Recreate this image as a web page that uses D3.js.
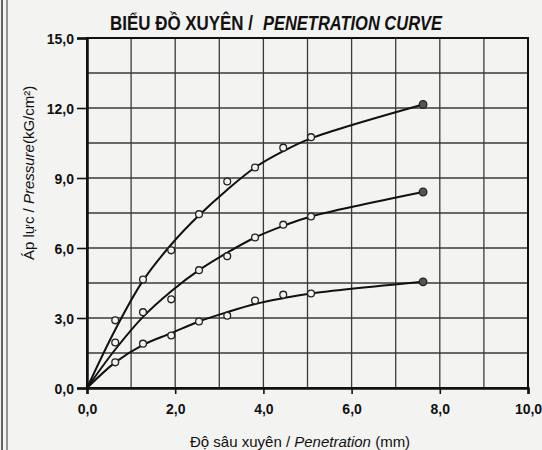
<!DOCTYPE html>
<html>
<head>
<meta charset="utf-8">
<script src="https://cdn.jsdelivr.net/npm/d3@7"></script>
<style>
  body { margin: 0; background: #f3f3f1; }
  svg { display: block; }
  text { font-family: "Liberation Sans Narrow", "Arial Narrow", "Liberation Sans", sans-serif; fill: #111; }
</style>
</head>
<body>
<div id="chart"></div>
<script>
// penetration depths (mm) where readings were taken
var depth = [0.64, 1.27, 1.91, 2.54, 3.18, 3.81, 4.45, 5.08, 7.62];

// measured pressures, three samples
var upper = [2.9, 4.65, 5.9, 7.45, 8.85, 9.45, 10.3, 10.75, 12.15];
var middle = [1.95, 3.25, 3.8, 5.05, 5.65, 6.45, 7.0, 7.35, 8.4];
var lower = [1.1, 1.9, 2.25, 2.85, 3.1, 3.75, 4.0, 4.05, 4.55];

// hand-drawn fitted curves, read at the same depths (start at origin)
var curveX = [0, 0.64, 1.27, 1.91, 2.54, 3.18, 3.81, 4.45, 5.08, 7.62];
var upperFit = [0, 2.5, 4.6, 6.15, 7.4, 8.5, 9.45, 10.15, 10.7, 12.15];
var middleFit = [0, 1.65, 3.05, 4.15, 5.05, 5.8, 6.45, 6.95, 7.35, 8.4];
var lowerFit = [0, 1.1, 1.85, 2.35, 2.85, 3.25, 3.6, 3.85, 4.05, 4.55];

var xTicks = [0, 2, 4, 6, 8, 10];
var yTicks = [0, 3, 6, 9, 12, 15];
var xGrid = d3.range(0, 11, 1);
var yGrid = d3.range(0, 16.5, 1.5);

var w = 542, h = 450;
var svg = d3.select('#chart').append('svg')
    .attr('width', w)
    .attr('height', h);

// paper edge on the left of the scan
svg.append('line').attr('x1', 2).attr('x2', 2).attr('y1', 0).attr('y2', h)
    .attr('stroke', '#333').attr('stroke-width', 1.5);
svg.append('line').attr('x1', 7).attr('x2', 7).attr('y1', 0).attr('y2', h)
    .attr('stroke', '#555').attr('stroke-width', 1.2);

var x = d3.scaleLinear().domain([0, 10]).range([87, 528]);
var y = d3.scaleLinear().domain([0, 15]).range([388, 38]);

var fmt = function(d) { return d3.format('.1f')(d).replace('.', ','); };

// grid
svg.append('g').selectAll('line')
    .data(xGrid)
    .enter()
    .append('line')
    .attr('x1', function(d) { return x(d); })
    .attr('x2', function(d) { return x(d); })
    .attr('y1', y(0))
    .attr('y2', y(15))
    .attr('stroke', '#3a3a3a')
    .attr('stroke-width', 1.3);

svg.append('g').selectAll('line')
    .data(yGrid)
    .enter()
    .append('line')
    .attr('x1', x(0))
    .attr('x2', x(10))
    .attr('y1', function(d) { return y(d); })
    .attr('y2', function(d) { return y(d); })
    .attr('stroke', '#3a3a3a')
    .attr('stroke-width', 1.3);

// frame
svg.append('rect')
    .attr('x', x(0)).attr('y', y(15))
    .attr('width', x(10) - x(0)).attr('height', y(0) - y(15))
    .attr('fill', 'none').attr('stroke', '#111').attr('stroke-width', 2);

// axes
var xAxis = d3.axisBottom(x).tickValues(xTicks).tickFormat(fmt).tickSize(6).tickPadding(10);
var yAxis = d3.axisLeft(y).tickValues(yTicks).tickFormat(fmt).tickSize(10).tickPadding(3);

var gx = svg.append('g').attr('transform', 'translate(0,' + y(0) + ')').call(xAxis);
var gy = svg.append('g').attr('transform', 'translate(' + x(0) + ',0)').call(yAxis);

[gx, gy].forEach(function(g) {
    g.select('.domain').attr('stroke', '#111').attr('stroke-width', 2.5);
    g.selectAll('.tick line').attr('stroke', '#111').attr('stroke-width', 1.6);
    g.selectAll('.tick text')
        .attr('font-family', '"Liberation Sans Narrow", "Arial Narrow", "Liberation Sans", sans-serif')
        .attr('font-size', '14px')
        .attr('font-weight', 'bold')
        .attr('fill', '#151515');
});
gy.selectAll('.tick text').attr('dy', '0.4em');

// fitted curves
var line = d3.line()
    .x(function(d) { return x(d[0]); })
    .y(function(d) { return y(d[1]); })
    .curve(d3.curveCatmullRom.alpha(0.5));

[upperFit, middleFit, lowerFit].forEach(function(fit) {
    svg.append('path')
        .datum(curveX.map(function(v, i) { return [v, fit[i]]; }))
        .attr('d', line)
        .attr('fill', 'none')
        .attr('stroke', '#111')
        .attr('stroke-width', 2);
});

// measured points
[upper, middle, lower].forEach(function(series) {
    svg.append('g').selectAll('circle')
        .data(series)
        .enter()
        .append('circle')
        .attr('cx', function(d, i) { return x(depth[i]); })
        .attr('cy', function(d) { return y(d); })
        .attr('r', function(d, i) { return i === series.length - 1 ? 3.8 : 3.4; })
        .attr('fill', function(d, i) { return i === series.length - 1 ? '#555' : '#f3f3f1'; })
        .attr('stroke', '#222')
        .attr('stroke-width', 1.3);
});

// title, in two pieces so each keeps its own width
svg.append('text')
    .attr('x', 110)
    .attr('y', 30)
    .attr('font-size', '20px')
    .attr('font-weight', 'bold')
    .attr('textLength', 143)
    .attr('lengthAdjust', 'spacingAndGlyphs')
    .text('BIỂU ĐỒ XUYÊN /');
svg.append('text')
    .attr('x', 263)
    .attr('y', 30)
    .attr('font-size', '20px')
    .attr('font-weight', 'bold')
    .attr('font-style', 'italic')
    .attr('textLength', 179)
    .attr('lengthAdjust', 'spacingAndGlyphs')
    .text('PENETRATION CURVE');

// x title
var xt = svg.append('text')
    .attr('x', 190)
    .attr('y', 447)
    .attr('font-size', '15px');
xt.append('tspan').text('Độ sâu xuyên / ');
xt.append('tspan').attr('font-style', 'italic').text('Penetration');
xt.append('tspan').text(' (mm)');

// y title
var yt = svg.append('text')
    .attr('transform', 'translate(34,260) rotate(-90)')
    .attr('font-size', '15px');
yt.append('tspan').text('Áp lực / ');
yt.append('tspan').attr('font-style', 'italic').text('Pressure');
yt.append('tspan').text('(kG/cm²)');
</script>
</body>
</html>
